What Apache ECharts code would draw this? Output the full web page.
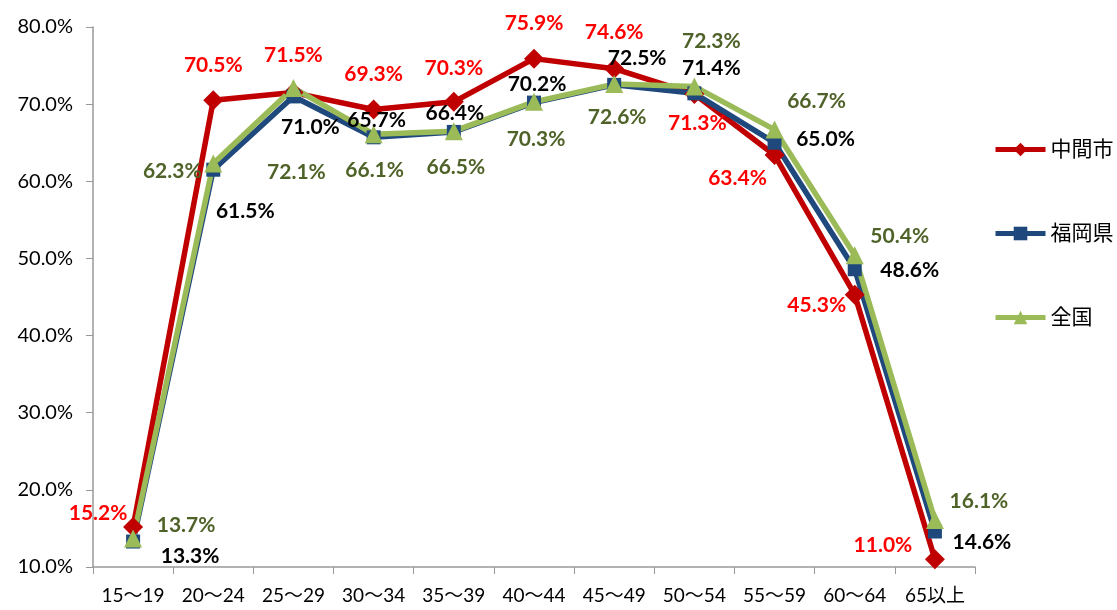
<!DOCTYPE html>
<html><head><meta charset="utf-8">
<script src="https://cdn.jsdelivr.net/npm/echarts@6/dist/echarts.min.js"></script>
<style>html,body{margin:0;padding:0;background:#fff}#c{width:1117px;height:610px}</style>
</head><body><div id="c"></div>
<script>
const categories = ['15～19','20～24','25～29','30～34','35～39','40～44','45～49','50～54','55～59','60～64','65以上'];
const nakama = [15.2,70.5,71.5,69.3,70.3,75.9,74.6,71.3,63.4,45.3,11.0];
const fukuoka = [13.3,61.5,71.0,65.7,66.4,70.2,72.5,71.4,65.0,48.6,14.6];
const zenkoku = [13.7,62.3,72.1,66.1,66.5,70.3,72.6,72.3,66.7,50.4,16.1];
const seriesNames = ['中間市','福岡県','全国'];
const yTicks = {min:10,max:80,interval:10};

// label offsets (pixels) relative to each point
const offNakama = [[-35,-14],[0,-35],[0,-37],[0,-35],[0,-34],[0,-35],[0,-36],[3,29],[-37,23],[-38,11],[-52,-14]];
const offFukuoka = [[57,15],[32,42],[17,31],[3,-17],[1,-19],[3,-18],[23,-27],[17,-25],[51,-3],[55,1],[47,11]];
const offZenkoku = [[53,-13],[-41,8],[3,84],[1,36],[2,36],[2,37],[3,33],[17,-45],[42,-28],[45,-19],[44,-19]];

const FONT = 'Lato, "Noto Sans CJK JP", sans-serif';
function mk(name, vals, offs, color, labelColor, symbol, size){
  return {
    name, type:'line', data: vals.map((v,i)=>({value:v,label:{offset:offs[i]}})),
    symbol, symbolSize:size, showSymbol:true,
    lineStyle:{color, width:5.5}, itemStyle:{color},
    label:{show:true, position:'inside', color:labelColor, fontWeight:'bold', fontSize:21, fontFamily:FONT,
      formatter:p=>p.value.toFixed(1)+'%'},
    emphasis:{disabled:true}, animation:false
  };
}
const chart = echarts.init(document.getElementById('c'));
chart.setOption({
  animation:false,
  textStyle:{fontFamily:FONT},
  grid:{left:93,right:142,top:27,bottom:43},
  legend:{orient:'vertical', left:988, top:134, itemGap:63, itemWidth:50, itemHeight:17,
    lineStyle:{width:5},
    textStyle:{fontSize:21,color:'#000',fontFamily:FONT}, data:seriesNames},
  xAxis:{type:'category', data:categories, boundaryGap:true,
    axisLine:{lineStyle:{color:'#999',width:1.5}}, axisTick:{show:true,length:7,lineStyle:{color:'#999'}},
    axisLabel:{color:'#000',fontSize:19,margin:19,interval:0,fontFamily:FONT}},
  yAxis:{type:'value', min:yTicks.min, max:yTicks.max, interval:yTicks.interval,
    splitLine:{show:false}, axisLine:{show:true,lineStyle:{color:'#999',width:1.5}},
    axisTick:{show:true,length:7,lineStyle:{color:'#999'}},
    axisLabel:{color:'#000',fontSize:20,margin:20,fontFamily:FONT,formatter:v=>v.toFixed(1)+'%'}},
  series:[
    mk(seriesNames[0], nakama, offNakama, '#C00000', '#FF0000', 'diamond', 20),
    mk(seriesNames[1], fukuoka, offFukuoka, '#1F497D', '#000000', 'rect', 14),
    mk(seriesNames[2], zenkoku, offZenkoku, '#9BBB59', '#4F6228', 'triangle', 18)
  ]
});
</script></body></html>
